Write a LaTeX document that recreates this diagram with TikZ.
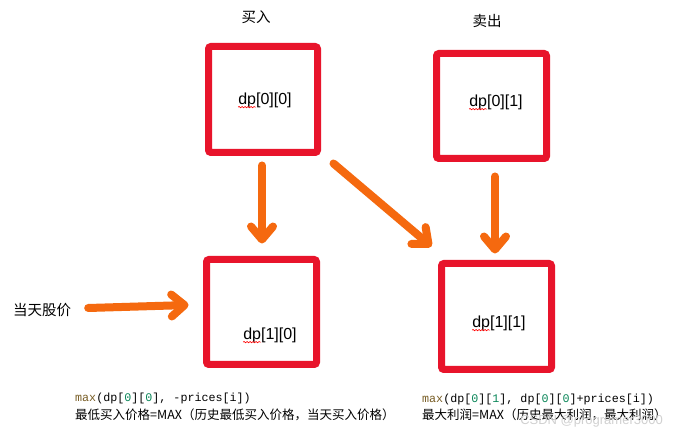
\documentclass[tikz,border=0pt]{standalone}
\usepackage{fontspec}
\setmainfont{Liberation Sans}
\setmonofont{Liberation Mono}
\newfontfamily\cjk{Noto Sans CJK SC}
\usetikzlibrary{arrows.meta,decorations.pathmorphing}
\definecolor{boxred}{HTML}{E8142B}
\definecolor{arrorange}{HTML}{F5690F}
\definecolor{fnbrown}{HTML}{795E26}
\definecolor{numgreen}{HTML}{098658}
\newcommand{\nm}[1]{\textcolor{numgreen}{#1}}
\begin{document}
\begin{tikzpicture}[x=1pt,y=-1pt,
  box/.style={draw=boxred,line width=7pt,rounded corners=2.5pt,inner sep=0pt},
  arr/.style={draw=arrorange,line width=8pt,line cap=round,line join=round,
    -{Straight Barb[length=13pt,width=22pt,line cap=round,line join=round]}},
  lab/.style={font=\fontsize{16}{18}\selectfont,inner sep=0pt},
  cn/.style={font=\cjk\fontsize{14.5}{16}\selectfont,inner sep=0pt},
  code/.style={font=\ttfamily\fontsize{11.7}{14}\selectfont,inner sep=0pt,anchor=west},
  note/.style={font=\cjk\fontsize{12.5}{14}\selectfont,inner sep=0pt,anchor=west},
  squig/.style={draw=red,line width=0.6pt,decorate,decoration={snake,segment length=3pt,amplitude=0.7pt}}
]
\useasboundingbox[fill=white] (0,0) rectangle (673,438);

% boxes
\node[box,minimum width=109pt,minimum height=106pt] (A) at (263,99.5) {};
\node[box,minimum width=110pt,minimum height=105pt] (B) at (491.5,106) {};
\node[box,minimum width=110pt,minimum height=105pt] (C) at (261.5,312) {};
\node[box,minimum width=110pt,minimum height=106pt] (D) at (496.5,316.5) {};

% box labels
\node[lab] (LA) at (265,100) {dp[0][0]};
\node[lab] (LB) at (496,102) {dp[0][1]};
\node[lab] (LC) at (270,335) {dp[1][0]};
\node[lab] (LD) at (499,323) {dp[1][1]};
\foreach \n in {LA,LB,LC,LD}{
  \draw[squig] ([yshift=-3pt]\n.base west) -- ([xshift=18pt,yshift=-3pt]\n.base west);
}

% headers
\node[cn] (buy) at (256,17) {买入};
\node[cn] (sell) at (487,21) {卖出};
\node[cn] (price) at (42,310) {当天股价};

% arrows
\draw[arr] ([xshift=-1pt,yshift=-9.5pt]A.south) -- ([xshift=0.5pt,yshift=12.5pt]C.north);
\draw[arr] ([xshift=3.5pt,yshift=-14.5pt]B.south) -- ([xshift=-1.5pt,yshift=6.5pt]D.north);
\draw[arr] ([xshift=12.5pt,yshift=-7.5pt]A.south east) -- ([xshift=-6.5pt,yshift=13.5pt]D.north west);
\draw[arr] ([xshift=17pt,yshift=2pt]price.east) -- ([xshift=-14.5pt,yshift=7pt]C.west);

% formulas
\node[code] (f1) at (75,398) {\textcolor{fnbrown}{max}(dp[\nm{0}][\nm{0}], -prices[i])};
\node[note] (n1) at (75,415) {最低买入价格=MAX（历史最低买入价格，当天买入价格）};
\node[code] (f2) at (422,399) {\textcolor{fnbrown}{max}(dp[\nm{0}][\nm{1}], dp[\nm{0}][\nm{0}]+prices[i])};
\node[note] (n2) at (422,415) {最大利润=MAX（历史最大利润，最大利润）};

% watermark
\node[font=\fontsize{13}{15}\selectfont,text=black!18,inner sep=0pt,anchor=east] (wm) at (663,421) {CSDN @programer3000};
\end{tikzpicture}
\end{document}
